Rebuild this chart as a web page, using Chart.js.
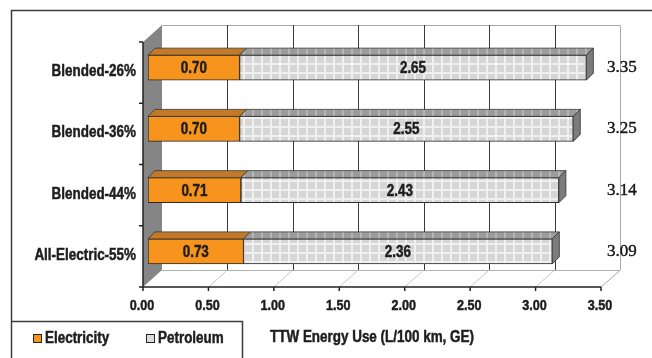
<!DOCTYPE html>
<html>
<head>
<meta charset="utf-8">
<script src="https://cdn.jsdelivr.net/npm/chart.js@4"></script>
<style>
    body { margin: 0; background: #fff; }
    #wrap { width: 652px; height: 358px; position: relative; }
</style>
</head>
<body>
<div id="wrap"><canvas id="energyChart"></canvas></div>
<script>
// Chart data
const categories = ['Blended-26%', 'Blended-36%', 'Blended-44%', 'All-Electric-55%'];
const electricity = [0.70, 0.70, 0.71, 0.73];
const petroleum = [2.65, 2.55, 2.43, 2.36];
const totals = [3.35, 3.25, 3.14, 3.09];
const seriesNames = ['Electricity', 'Petroleum'];
const axisTitle = 'TTW Energy Use (L/100 km, GE)';

const SANS = "'Liberation Sans', Arial, sans-serif";
const SERIF = "'Liberation Serif', 'Times New Roman', serif";

// 3D offsets, relative to the plane the bars' front faces sit in
const DEPTH = 7;
const FRONT = { dx: -5, dy: 5 };
const BACK = { dx: 14, dy: -12 };

function makePattern(bg, line, size, lw, vertOnly) {
    const c = document.createElement('canvas');
    c.width = size; c.height = size;
    const g = c.getContext('2d');
    g.fillStyle = bg;
    g.fillRect(0, 0, size, size);
    g.fillStyle = line;
    g.fillRect(0, 0, lw, size);
    if (!vertOnly) g.fillRect(0, 0, size, lw);
    return g.createPattern(c, 'repeat');
}

const petroFront = makePattern('#d6d6d6', '#f0f0f0', 9, 2, false);
const petroTop = makePattern('#9c9c9c', '#b6b6b6', 9, 2, true);

// Arial Narrow look: squeeze bold Liberation Sans horizontally
function narrowText(ctx, text, x, y, align, size) {
    ctx.save();
    ctx.translate(x, y);
    ctx.scale(0.84, 1);
    ctx.font = 'bold ' + size + 'px ' + SANS;
    ctx.textAlign = align;
    ctx.textBaseline = 'middle';
    ctx.fillStyle = '#1e1e1e';
    ctx.strokeStyle = '#1e1e1e';
    ctx.lineWidth = 0.5;
    ctx.fillText(text, 0, 0);
    ctx.strokeText(text, 0, 0);
    ctx.restore();
}

const scene3d = {
    id: 'scene3d',
    beforeDatasetsDraw(chart) {
        const ctx = chart.ctx;
        const a = chart.chartArea;
        const xs = chart.scales.x;
        const ys = chart.scales.y;
        ctx.save();

        const fl = a.left + FRONT.dx, ft = a.top + FRONT.dy, fb = a.bottom + FRONT.dy;
        const fr = xs.getPixelForValue(3.5) + FRONT.dx;
        const bl = a.left + BACK.dx, bt = a.top + BACK.dy, bb = a.bottom + BACK.dy;
        const br = xs.getPixelForValue(3.5) + BACK.dx;

        // back wall
        ctx.fillStyle = '#ffffff';
        ctx.fillRect(bl, bt, br - bl, bb - bt);
        ctx.strokeStyle = '#a8a8a8';
        ctx.lineWidth = 1;
        ctx.beginPath();
        ctx.moveTo(bl, bt + 0.5); ctx.lineTo(br + 0.5, bt + 0.5); ctx.lineTo(br + 0.5, bb);
        ctx.lineTo(fr, fb);
        ctx.stroke();

        // floor
        ctx.beginPath();
        ctx.moveTo(bl, bb + 0.5); ctx.lineTo(br, bb + 0.5);
        ctx.strokeStyle = '#b0b0b0';
        ctx.stroke();
        for (let v = 0.5; v < 3.5; v += 0.5) {
            const px = xs.getPixelForValue(v);
            ctx.beginPath();
            ctx.moveTo(px + FRONT.dx, fb);
            ctx.lineTo(px + BACK.dx, bb);
            ctx.strokeStyle = '#c4c4c4';
            ctx.stroke();
            // gridline on back wall
            ctx.beginPath();
            ctx.moveTo(Math.round(px + BACK.dx) + 0.5, bt);
            ctx.lineTo(Math.round(px + BACK.dx) + 0.5, bb);
            ctx.strokeStyle = '#3a3a3a';
            ctx.stroke();
        }

        // left wall
        ctx.fillStyle = '#858585';
        ctx.beginPath();
        ctx.moveTo(fl, ft); ctx.lineTo(bl, bt); ctx.lineTo(bl, bb); ctx.lineTo(fl, fb);
        ctx.closePath();
        ctx.fill();

        // front axes
        ctx.strokeStyle = '#222';
        ctx.lineWidth = 1.5;
        ctx.beginPath();
        ctx.moveTo(fl, ft); ctx.lineTo(fl, fb); ctx.lineTo(fr, fb);
        ctx.stroke();
        const step = (fb - ft) / categories.length;
        for (let i = 0; i <= categories.length; i++) {
            ctx.beginPath();
            ctx.moveTo(fl - 4, ft + i * step); ctx.lineTo(fl, ft + i * step);
            ctx.stroke();
        }
        xs.ticks.forEach(t => {
            const px = xs.getPixelForValue(t.value) + FRONT.dx;
            ctx.beginPath();
            ctx.moveTo(px, fb); ctx.lineTo(px, fb + 4);
            ctx.stroke();
            narrowText(ctx, t.value.toFixed(2), px - 1, fb + 19, 'center', 15);
        });
        // category labels
        chart.data.labels.forEach((lab, i) => {
            narrowText(ctx, lab, 136, ys.getPixelForValue(i) + FRONT.dy - 1, 'right', 16);
        });
        ctx.restore();
    },
    afterDatasetsDraw(chart) {
        const ctx = chart.ctx;
        ctx.save();
        const metas = [chart.getDatasetMeta(0), chart.getDatasetMeta(1)];
        metas.forEach((meta, di) => {
            meta.data.forEach((bar, i) => {
                const p = bar.getProps(['x', 'y', 'base', 'height'], true);
                const t = p.y - p.height / 2, b = p.y + p.height / 2;
                // top face
                ctx.beginPath();
                ctx.moveTo(p.base, t); ctx.lineTo(p.base + DEPTH, t - DEPTH);
                ctx.lineTo(p.x + DEPTH, t - DEPTH); ctx.lineTo(p.x, t);
                ctx.closePath();
                ctx.fillStyle = di === 0 ? '#c27a28' : petroTop;
                ctx.fill();
                ctx.strokeStyle = '#333';
                ctx.lineWidth = 0.8;
                ctx.stroke();
                // right side face on the last segment
                if (di === 1) {
                    ctx.beginPath();
                    ctx.moveTo(p.x, t); ctx.lineTo(p.x + DEPTH, t - DEPTH);
                    ctx.lineTo(p.x + DEPTH, b - DEPTH); ctx.lineTo(p.x, b);
                    ctx.closePath();
                    ctx.fillStyle = '#7c7c7c';
                    ctx.fill();
                    ctx.stroke();
                }
                // value label
                const vals = di === 0 ? electricity : petroleum;
                narrowText(ctx, vals[i].toFixed(2), (p.x + p.base) / 2, p.y + 1, 'center', 16);
                // totals
                if (di === 1) {
                    ctx.font = '17px ' + SERIF;
                    ctx.textAlign = 'left';
                    ctx.textBaseline = 'middle';
                    ctx.fillStyle = '#151515';
                    ctx.strokeStyle = '#151515';
                    ctx.lineWidth = 0.4;
                    ctx.fillText(totals[i].toFixed(2), 607, p.y);
                    ctx.strokeText(totals[i].toFixed(2), 607, p.y);
                }
            });
        });

        // outer frame
        ctx.strokeStyle = '#3c3c3c';
        ctx.lineWidth = 1.5;
        ctx.beginPath();
        ctx.moveTo(11.5, 360); ctx.lineTo(11.5, 10.5); ctx.lineTo(652, 10.5);
        ctx.stroke();
        // legend box
        ctx.beginPath();
        ctx.moveTo(11.5, 321.5); ctx.lineTo(242.5, 321.5); ctx.lineTo(242.5, 360);
        ctx.stroke();
        ctx.lineWidth = 1;
        ctx.strokeStyle = '#222';
        ctx.fillStyle = '#f7941d';
        ctx.fillRect(33.5, 334.5, 8, 8);
        ctx.strokeRect(33.5, 334.5, 8, 8);
        ctx.fillStyle = '#dddddd';
        ctx.fillRect(146.5, 334.5, 8, 8);
        ctx.strokeRect(146.5, 334.5, 8, 8);
        narrowText(ctx, seriesNames[0], 45, 339, 'left', 16);
        narrowText(ctx, seriesNames[1], 158, 339, 'left', 16);
        narrowText(ctx, axisTitle, 372, 338, 'center', 16);
        ctx.restore();
    }
};

const ctx = document.getElementById('energyChart').getContext('2d');
new Chart(ctx, {
    type: 'bar',
    data: {
        labels: categories,
        datasets: [
            { label: seriesNames[0], data: electricity, backgroundColor: '#f7941d', borderColor: '#2a2a2a', borderWidth: 1, borderSkipped: false, barThickness: 25 },
            { label: seriesNames[1], data: petroleum, backgroundColor: petroFront, borderColor: '#2a2a2a', borderWidth: 1, borderSkipped: false, barThickness: 25 }
        ]
    },
    options: {
        indexAxis: 'y',
        responsive: true,
        maintainAspectRatio: false,
        animation: false,
        layout: { padding: { top: 37, right: 46, left: 0, bottom: 0 } },
        plugins: { legend: { display: false }, tooltip: { enabled: false } },
        scales: {
            x: {
                stacked: true,
                min: 0,
                max: 3.5,
                ticks: { stepSize: 0.5, display: false },
                grid: { display: false, drawTicks: false },
                border: { display: false },
                afterFit: s => { s.height = 76; }
            },
            y: {
                stacked: true,
                ticks: { display: false },
                grid: { display: false, drawTicks: false },
                border: { display: false },
                afterFit: s => { s.width = 148; }
            }
        }
    },
    plugins: [scene3d]
});
</script>
</body>
</html>
